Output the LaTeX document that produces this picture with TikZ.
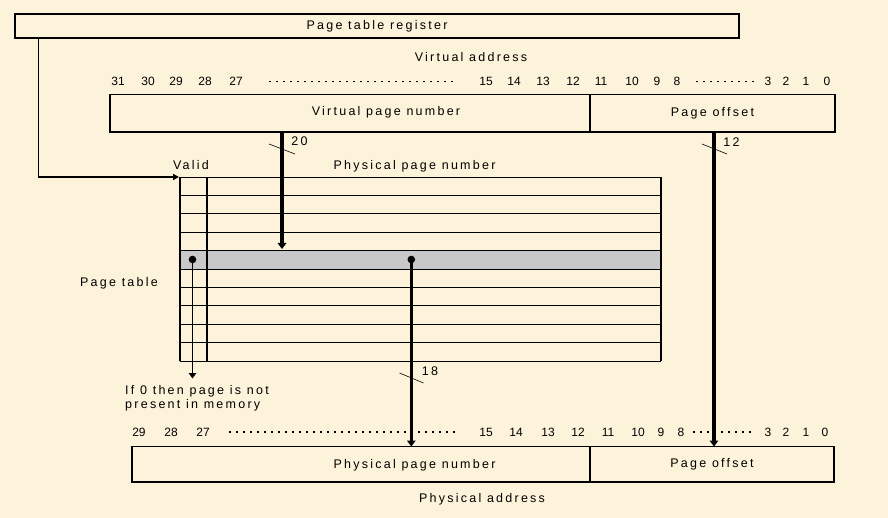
\documentclass[tikz,border=0pt]{standalone}
\usepackage{fontspec}
\setmainfont{Liberation Sans}[LetterSpace=18]
\newfontfamily\bitfont{Liberation Sans}
\tikzset{>=stealth}
\usetikzlibrary{arrows.meta}
\usetikzlibrary{shapes,positioning}
\definecolor{parchment}{RGB}{252,243,218}
\definecolor{hitrow}{RGB}{200,200,200}
\tikzset{
	field/.style={draw, line width=1.6pt, inner sep=0pt, text height=9pt, text depth=3.5pt, font=\fontsize{12.5}{14}\selectfont},
	lbl/.style={inner sep=0pt, text height=9pt, text depth=0pt, font=\fontsize{12.5}{14}\selectfont},
	bit/.style={inner sep=0pt, text height=8.7pt, text depth=0pt, font=\bitfont\fontsize{12}{13}\selectfont},
	bitdots/.style={line width=1.6pt, dash pattern=on 1.6pt off 5.4pt},
	bus/.style={line width=3.6pt, -{Triangle[length=6pt,width=8.5pt]}},
	link/.style={line width=1.6pt, -{Triangle[length=6pt,width=6pt]}},
	tick/.style={line width=0.6pt},
	rowline/.style={line width=0.9pt},
	colline/.style={line width=1.8pt}
}

\begin{document}
\begin{tikzpicture}[x=1pt,y=-1pt]
	\useasboundingbox (0,0) rectangle (888,518);
	\fill[parchment] (0,0) rectangle (888,518);

	% page table register
	\node[field, minimum width=724pt, minimum height=24pt] (ptr) at (377,26.3) {Page table register};
	\coordinate (regout) at (38.3,38.3);

	% virtual address
	\node[lbl] (vatitle) at (471,57.5) {Virtual address};
	\foreach \p/\n in {118/31,148/30,176/29,205/28,236/27,486/15,514/14,543/13,573/12,601/11,632/10,657/9,677/8,768/3,786/2,806/1,827/0}
		\node[bit] (vb\n) at (\p,81.5) {\n};
	\draw[bitdots] (269,81.5) -- (457,81.5);
	\draw[bitdots] (696,81.5) -- (757,81.5);
	\node[field, minimum width=480pt, minimum height=37.8pt] (vpn) at (350,113.4) {};
	\node[lbl] (vpntext) at (386,111.5) {Virtual page number};
	\node[field, minimum width=245pt, minimum height=37.8pt] (voff) at (712.5,113.4) {Page offset};

	% page table
	\node[lbl] (validtext) at (191,165.5) {Valid};
	\node[lbl] (pttext) at (414.5,165.5) {Physical page number};
	\node[lbl] (ptname) at (119,282.5) {Page table};
	\fill[hitrow] (180,250.6) rectangle (661,269);
	\foreach \k in {0,...,10}
		\draw[rowline] (180,177+18.4*\k) -- (661,177+18.4*\k);
	\draw[colline] (180,177) -- (180,361);
	\draw[colline] (207,177) -- (207,361);
	\draw[colline] (661,177) -- (661,361);
	\coordinate (ptbase) at (179,177);
	\coordinate (vbit) at (192.5,259.5);
	\coordinate (pfn) at (411.3,259.5);
	\coordinate (vmiss) at (192.5,378.5);
	\node[lbl, anchor=base west] (miss1) at (125,394) {If 0 then page is not};
	\node[lbl, anchor=base west] (miss2) at (125,408) {present in memory};

	% physical address
	\foreach \p/\n in {139/29,171/28,203/27,486/15,516/14,548/13,578/12,608/11,638/10,661/9,681/8,768/3,786/2,806/1,825/0}
		\node[bit] (pb\n) at (\p,432.5) {\n};
	\draw[bitdots] (229,432) -- (455,432);
	\draw[bitdots] (693,432) -- (752,432);
	\node[field, minimum width=458pt, minimum height=35.5pt] (ppn) at (361,464.3) {};
	\node[lbl] (ppntext) at (414.5,463.5) {Physical page number};
	\node[field, minimum width=244pt, minimum height=35.5pt] (poff) at (712,464.3) {Page offset};
	\node[lbl] (patitle) at (482,497.5) {Physical address};

	% connectors
	\coordinate (vpnout) at (282,132.3);
	\coordinate (idx) at (282,249);
	\coordinate (offout) at (714,132.3);
	\coordinate (offin) at (714,446.5);
	\coordinate (ppnin) at (411.3,446.5);
	\draw[link] (regout) |- (ptbase);
	\draw[bus] (vpnout) -- (idx);
	\draw[bus] (offout) -- (offin);
	\draw[bus] (pfn) -- (ppnin);
	\draw[link, line width=1.8pt, -{Triangle[length=5.5pt,width=7.5pt]}] (vbit) -- (vmiss);
	\fill (vbit) circle (3.8pt);
	\fill (pfn) circle (3.8pt);

	% bus widths
	\draw[tick] (269,144) -- (295,154);
	\node[lbl] (w20) at (299.5,141.5) {20};
	\draw[tick] (702,144) -- (727,154);
	\node[lbl] (w12) at (731.5,142) {12};
	\draw[tick] (399.5,373) -- (423.5,383);
	\node[lbl] (w18) at (430,371) {18};
\end{tikzpicture}
\end{document}
